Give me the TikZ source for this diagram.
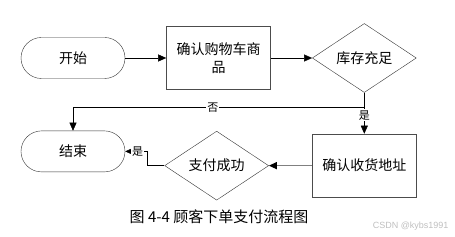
\documentclass[tikz,border=0pt]{standalone}
\usepackage{fontspec}
\newfontfamily\cjk{Noto Sans CJK SC}
\newfontfamily\wmfont{Liberation Sans}
\usetikzlibrary{arrows.meta, positioning, shapes.geometric}

\begin{document}
\begin{tikzpicture}[
      x=1pt, y=-1pt,
      node distance=41pt,
      term/.style={draw=black!80, rounded corners=20.5pt, minimum width=104pt, minimum height=41pt, font=\cjk\fontsize{14}{16}\selectfont},
      box/.style={draw=black!70, line width=0.9pt, align=center, minimum width=104pt, minimum height=63pt, font=\cjk\fontsize{14}{18}\selectfont},
      dec/.style={draw=black!80, diamond, inner sep=0pt, minimum width=104pt, minimum height=63pt, font=\cjk\fontsize{14}{16}\selectfont},
      lbl/.style={fill=white, inner sep=1pt, font=\cjk\fontsize{11}{13}\selectfont},
      arr/.style={-{Triangle[length=8pt, width=7pt, color=black]}, thin}
    ]
    \useasboundingbox (0,0) rectangle (455,237);
    \node[term] (start) at (73,58) {开始};
    \node[box, right=of start] (cart) {确认购物车商\\品};
    \node[dec, right=of cart] (stock) {库存充足};
    \node[box, below=of stock] (addr) {确认收货地址};
    \node[dec, left=43pt of addr] (pay) {支付成功};
    \node[term, below=52pt of start] (finish) {结束};

    \draw[arr] (start) -- (cart);
    \draw[arr] (cart) -- (stock);
    \draw[arr] (stock.south) -- node[lbl, pos=0.55]{是} (addr.north);
    \draw[arr] (stock.south) -- ++(0,15) -| node[lbl, pos=0.26]{否} (finish.north);
    \draw[arr, draw=gray, line width=1.3pt] (addr) -- (pay);
    \draw[arr] (pay.west) -- ++(-17,0) |- node[lbl, pos=0.72]{是} (finish.east);

    \node[font=\cjk\fontsize{15}{18}\selectfont] (caption) at (219,217) {图 4-4 顾客下单支付流程图};
    \node[font=\wmfont\fontsize{9}{11}\selectfont, text=black!25, anchor=east] (mark) at (452,226) {CSDN @kybs1991};
  \end{tikzpicture}
\end{document}
